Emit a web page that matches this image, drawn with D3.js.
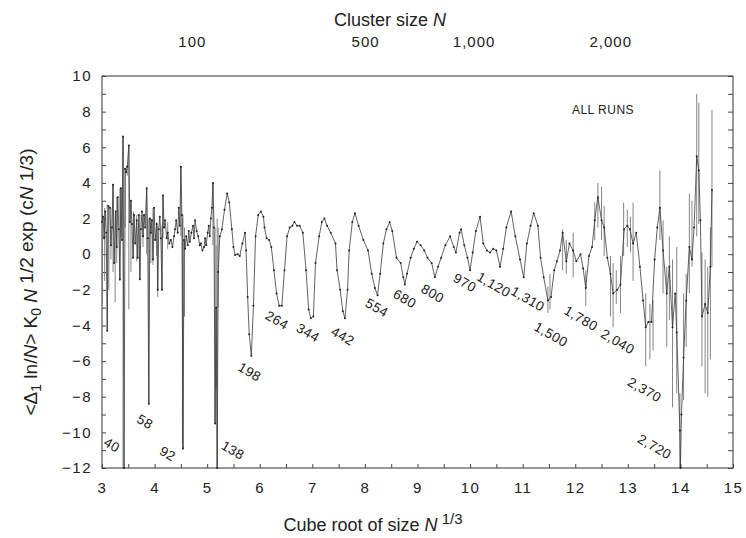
<!DOCTYPE html>
<html>
<head>
<meta charset="utf-8">
<script src="https://cdn.jsdelivr.net/npm/d3@7.9.0/dist/d3.min.js"></script>
<style>
  body { margin: 0; background: #fff; }
  svg text { font-family: "Liberation Sans", Arial, sans-serif; fill: #222; }
  .domain { display: none; }
</style>
</head>
<body>
<svg id="chart" width="746" height="538"></svg>
<script>
// x = cube root of cluster size, y = <Δ1 ln/N> K0 N^1/2 exp(cN^1/3)
const xTicks = [3, 4, 5, 6, 7, 8, 9, 10, 11, 12, 13, 14, 15];
const yTicks = [-12, -10, -8, -6, -4, -2, 0, 2, 4, 6, 8, 10];
const topTicks = [100, 500, 1000, 2000];
const topLabels = ['100', '500', '1,000', '2,000'];

// main trace
const points = [
  [3.00, 1.8], [3.02, 2.1], [3.04, 0.9], [3.06, 2.4], [3.08, 1.2], [3.10, -4.3], [3.12, 2.7],
  [3.15, 2.6], [3.17, 0.5], [3.19, 1.5], [3.21, 3.9], [3.23, -0.5], [3.26, 2.4], [3.28, 0.4],
  [3.30, 3.2], [3.32, 1.4], [3.34, -1.4], [3.36, 3.7], [3.38, 0.8], [3.40, 6.6], [3.42, -12],
  [3.44, 4.8], [3.46, 4.6], [3.48, 4.9], [3.51, 6.1], [3.53, 1.8], [3.55, 3.0], [3.57, 1.7],
  [3.59, -0.2], [3.61, 2.2], [3.63, 0.6], [3.66, 1.9], [3.68, -0.2], [3.70, 2.2], [3.72, -1.4],
  [3.74, 1.4], [3.76, 2.4], [3.78, 1.0], [3.80, 2.2], [3.82, 1.5], [3.85, 3.7], [3.87, 0.9],
  [3.89, -8.4], [3.91, 2.0], [3.93, 1.2], [3.95, 1.9], [3.97, -0.3], [3.99, 2.6], [4.01, 0.8],
  [4.04, 1.7], [4.06, -2.0], [4.08, 1.4], [4.10, 2.1], [4.12, 0.9], [4.14, -2.0], [4.16, 3.3],
  [4.18, 1.5], [4.20, 1.9], [4.23, 0.9], [4.25, 1.2], [4.28, 0.6], [4.31, 0.8], [4.34, 0.4],
  [4.37, 1.0], [4.39, 1.4], [4.41, 1.9], [4.44, 1.2], [4.46, 2.6], [4.48, 1.6], [4.50, 4.9],
  [4.52, 2.2], [4.54, -10.9], [4.56, 0.8], [4.58, 0.3], [4.60, 1.0], [4.63, 0.5], [4.65, 1.3],
  [4.67, 0.7], [4.70, 1.2], [4.73, 1.6], [4.75, 0.9], [4.77, 1.9], [4.80, 1.3], [4.83, 1.0],
  [4.86, 0.5], [4.88, 0.6], [4.91, 0.2], [4.94, 0.4], [4.96, 0.9], [4.98, 0.5], [5.01, 1.2],
  [5.03, 1.6], [5.05, 1.0], [5.07, 2.0], [5.09, 2.6], [5.11, 4.0], [5.13, 1.5], [5.15, -9.5],
  [5.17, -3.0], [5.19, -12], [5.21, -1.0], [5.24, 1.0], [5.28, 1.4],
  [5.33, 2.5], [5.38, 3.4], [5.42, 2.9], [5.47, 1.4], [5.50, 0.4], [5.53, -0.05], [5.58, 0.0],
  [5.62, -0.1], [5.67, 0.6], [5.72, 1.2], [5.74, 0.2], [5.77, -2.4], [5.80, -4.5], [5.84, -5.7],
  [5.88, -2.9], [5.92, 1.0], [5.97, 2.2], [6.02, 2.4], [6.07, 2.1], [6.09, 1.5], [6.13, 0.9],
  [6.18, 0.8], [6.22, 0.4], [6.27, -0.9], [6.32, -2.2], [6.37, -2.9], [6.42, -2.9], [6.47, -0.9],
  [6.52, 1.0], [6.57, 1.5], [6.62, 1.6], [6.66, 1.8], [6.71, 1.6], [6.76, 1.6], [6.82, 1.2],
  [6.88, -0.9], [6.93, -3.1], [6.97, -3.6], [7.02, -3.5], [7.06, -0.5], [7.13, 1.0], [7.18, 1.8],
  [7.23, 2.0], [7.28, 1.6], [7.35, 1.2], [7.44, 0.6], [7.47, -0.9], [7.53, -2.0], [7.58, -3.2],
  [7.62, -3.6], [7.67, -2.0], [7.70, 0.2], [7.76, 1.8], [7.81, 2.3], [7.88, 1.6], [7.97, 0.8],
  [8.06, 0.2], [8.13, -1.1], [8.19, -1.9], [8.24, -2.3], [8.29, -1.1], [8.35, 0.6], [8.41, 1.4],
  [8.47, 1.8], [8.52, 1.3], [8.60, -0.2], [8.68, -0.5], [8.73, -1.3], [8.76, -1.7], [8.80, -1.1],
  [8.87, -0.2], [8.93, 0.3], [8.99, 0.7], [9.06, 0.5], [9.13, 0.2], [9.19, -0.2], [9.27, -0.5],
  [9.33, -1.3], [9.39, -0.7], [9.45, -0.2], [9.53, 0.5], [9.62, 1.0], [9.69, 0.4], [9.73, 0.1],
  [9.80, 1.2], [9.83, 1.4], [9.89, 0.5], [9.95, -0.2], [10.00, -0.9], [10.05, 0.1], [10.11, 1.3],
  [10.19, 2.1], [10.25, 0.6], [10.32, 0.2], [10.38, 0.1], [10.44, 0.3], [10.50, 0.2], [10.57, -0.7],
  [10.63, 0.3], [10.69, 1.5], [10.78, 2.4], [10.86, 1.0], [10.95, -0.3], [11.02, -1.3], [11.08, 0.6],
  [11.15, 1.6], [11.21, 2.3], [11.29, 1.6], [11.34, -0.2], [11.40, -1.3], [11.48, -2.6], [11.54, -2.4],
  [11.60, -0.9], [11.65, -0.4], [11.71, 0.2], [11.76, 1.2], [11.83, -0.4], [11.89, 0.6], [11.96, 0.2],
  [12.02, -0.4], [12.10, 0.0], [12.15, -0.8], [12.20, -1.9], [12.26, -0.1], [12.32, 0.4], [12.37, 1.9],
  [12.43, 3.2], [12.50, 1.9], [12.55, 1.5], [12.61, -0.2], [12.67, -1.1], [12.72, -2.2], [12.80, -2.0],
  [12.86, -1.7], [12.93, 1.4], [12.99, 1.6], [13.04, 1.4], [13.10, 0.6], [13.16, 1.2], [13.23, -0.7],
  [13.29, -2.6], [13.34, -4.1], [13.39, -3.8], [13.45, -3.8], [13.51, -0.3], [13.56, 1.5], [13.61, 2.6],
  [13.67, 0.2], [13.74, -2.2], [13.79, -0.7], [13.85, -4.1], [13.90, -2.2], [13.93, -4.4], [13.99, -9.9],
  [14.00, -12], [14.02, -9.0], [14.06, -5.8], [14.11, -2.6], [14.17, 0.4], [14.22, -0.3], [14.26, 1.5],
  [14.31, 5.5], [14.35, 4.7], [14.38, 1.9], [14.41, -3.5], [14.47, -2.8], [14.52, -3.3], [14.57, -0.7],
  [14.60, 3.6]
];

// vertical error bars [x, low, high]
const errorBars = [
  [3.01, -2.8, 2.9], [3.05, -1.5, 2.6], [3.10, -4.3, 2.8], [3.13, -2.0, 2.7], [3.17, -0.3, 2.6],
  [3.21, -1.0, 3.9], [3.25, -2.7, 2.3], [3.28, -0.5, 3.2], [3.34, -1.5, 3.7], [3.36, 1.0, 3.7],
  [3.40, -12, 6.6], [3.44, 1.5, 4.8], [3.48, 4.4, 5.0], [3.51, -3.1, 6.1], [3.55, -1.0, 3.0],
  [3.60, -0.2, 2.4], [3.66, -0.4, 2.2], [3.72, -1.4, 2.2], [3.78, 0.4, 2.2], [3.85, 0.0, 3.7],
  [3.89, -8.4, 2.0], [3.93, -0.5, 2.0], [3.97, -0.6, 2.6], [4.04, -0.1, 1.8], [4.06, -2.4, 1.6],
  [4.14, -2.0, 1.6], [4.16, 0.9, 3.3], [4.25, 0.3, 1.8], [4.50, 1.0, 4.9], [4.53, -10.6, 2.0],
  [4.54, -10.9, 2.2], [4.57, -3.5, 1.5], [5.11, 0.5, 4.0], [5.15, -9.5, 1.5], [5.17, -7.5, 0.5],
  [5.19, -12, 2.0], [5.21, -3.0, 1.5],
  [11.48, -1.8, -3.3], [11.52, -1.1, -3.1], [11.76, 1.4, -0.9], [11.83, 0.8, -1.1], [11.96, 1.2, -1.3],
  [12.20, -0.9, -2.9], [12.37, 2.9, 0.8], [12.43, 4.0, 1.5], [12.50, 3.8, 0.8], [12.55, 2.7, -0.1],
  [12.67, -0.1, -3.5], [12.72, -0.5, -4.1], [12.78, -0.9, -2.8], [12.86, -0.1, -3.3], [12.92, 2.9, -0.1],
  [12.99, 2.5, 0.4], [13.05, 2.1, 0.1], [13.10, 2.9, -1.5], [13.34, -2.2, -6.3], [13.42, -2.8, -5.9],
  [13.48, -2.6, -5.4], [13.61, 4.7, 0.8], [13.67, 1.9, -2.2], [13.74, -0.7, -5.2], [13.79, 1.0, -3.7],
  [13.85, -0.3, -8.6], [13.93, 0.4, -7.8], [13.99, -7.8, -12], [14.06, -2.2, -8.2], [14.11, -1.1, -5.2],
  [14.17, 3.4, -2.2], [14.22, 3.0, -0.7], [14.31, 9.0, 1.0], [14.35, 8.5, 1.7], [14.41, 0.1, -6.3],
  [14.47, -0.3, -7.8], [14.52, -0.7, -8.0], [14.57, 1.5, -5.9], [14.60, 8.1, -0.7]
];

// shell-closing annotations, placed beside their minima
const dipLabels = ['40', '58', '92', '138', '198', '264', '344', '442', '554', '680', '800', '970',
  '1,120', '1,310', '1,500', '1,780', '2,040', '2,370', '2,720'];
const dipLabelX = [3.19, 3.82, 4.25, 5.49, 5.81, 6.33, 6.92, 7.58, 8.23, 8.76, 9.29, 9.90,
  10.45, 11.10, 11.54, 12.11, 12.81, 13.32, 13.51];
const dipLabelY = [-10.7, -9.4, -11.2, -11.0, -6.6, -3.7, -4.4, -4.6, -3.0, -2.5, -2.2, -1.6,
  -1.7, -2.5, -4.5, -3.6, -4.9, -7.6, -10.8];

const width = 746;
const height = 538;
const margin = { top: 76, right: 13, bottom: 70, left: 102 };

const svg = d3.select('#chart');

const xScale = d3.scaleLinear()
  .domain([3, 15])
  .range([margin.left, width - margin.right]);

const yScale = d3.scaleLinear()
  .domain([-12, 10])
  .range([height - margin.bottom, margin.top]);

const x0 = margin.left, x1 = width - margin.right;
const y0 = margin.top, y1 = height - margin.bottom;

// Frame
svg.append('rect')
  .attr('x', x0).attr('y', y0)
  .attr('width', x1 - x0).attr('height', y1 - y0)
  .attr('fill', 'none')
  .attr('stroke', '#333')
  .attr('stroke-width', 1);

// Left axis
svg.append('g')
  .attr('transform', `translate(${x0}, 0)`)
  .call(d3.axisLeft(yScale).tickValues(yTicks).tickSize(0).tickPadding(10))
  .selectAll('text')
  .style('font-size', '15px')
  .attr('letter-spacing', '1.5px');

// inner ticks, left and right
svg.append('g')
  .attr('transform', `translate(${x0}, 0)`)
  .call(d3.axisRight(yScale).ticks(22).tickSize(4).tickFormat(''))
  .selectAll('line').attr('stroke', '#444');
svg.append('g')
  .attr('transform', `translate(${x1}, 0)`)
  .call(d3.axisLeft(yScale).ticks(22).tickSize(5).tickFormat(''))
  .selectAll('line').attr('stroke', '#444');

// Bottom axis
svg.append('g')
  .attr('transform', `translate(0, ${y1})`)
  .call(d3.axisBottom(xScale).tickValues(xTicks).tickSize(0).tickPadding(14))
  .selectAll('text')
  .style('font-size', '15px')
  .attr('letter-spacing', '1.5px');

svg.append('g')
  .attr('transform', `translate(0, ${y1})`)
  .call(d3.axisTop(xScale).ticks(24).tickSize(4).tickFormat(''))
  .selectAll('line').attr('stroke', '#444');

// Top axis: cluster size N at N^(1/3)
const topAxis = svg.append('g')
  .attr('transform', `translate(0, ${y0})`);
topAxis.selectAll('text')
  .data(topTicks)
  .join('text')
  .attr('x', d => xScale(Math.cbrt(d)) + 4)
  .attr('y', -29)
  .attr('text-anchor', 'middle')
  .attr('letter-spacing', '1px')
  .style('font-size', '15px')
  .text((d, i) => topLabels[i]);

// Error bars
svg.append('g')
  .selectAll('line')
  .data(errorBars)
  .join('line')
  .attr('x1', d => xScale(d[0]))
  .attr('x2', d => xScale(d[0]))
  .attr('y1', d => yScale(d[1]))
  .attr('y2', d => yScale(d[2]))
  .attr('stroke', '#777')
  .attr('stroke-width', 0.9);

// Trace
const line = d3.line()
  .x(d => xScale(d[0]))
  .y(d => yScale(d[1]));

svg.append('path')
  .datum(points)
  .attr('d', line)
  .attr('fill', 'none')
  .attr('stroke', '#3a3a3a')
  .attr('stroke-width', 0.8);

svg.append('g')
  .selectAll('circle')
  .data(points)
  .join('circle')
  .attr('cx', d => xScale(d[0]))
  .attr('cy', d => yScale(d[1]))
  .attr('r', 1.0)
  .attr('fill', '#222');

// Dip labels
svg.append('g')
  .selectAll('text')
  .data(dipLabels)
  .join('text')
  .attr('transform', (d, i) =>
    `translate(${xScale(dipLabelX[i])}, ${yScale(dipLabelY[i])}) rotate(30)`)
  .attr('text-anchor', 'middle')
  .attr('dy', '0.35em')
  .attr('letter-spacing', '0.5px')
  .style('font-size', '13.5px')
  .text(d => d);

svg.append('text')
  .attr('x', 603)
  .attr('y', 114)
  .attr('text-anchor', 'middle')
  .attr('letter-spacing', '0.5px')
  .style('font-size', '12px')
  .text('ALL RUNS');

// Axis titles
const topTitle = svg.append('text')
  .attr('x', 390)
  .attr('y', 26)
  .attr('text-anchor', 'middle')
  .style('font-size', '18px');
topTitle.append('tspan').text('Cluster size ');
topTitle.append('tspan').style('font-style', 'italic').text('N');

const bottomTitle = svg.append('text')
  .attr('x', 373)
  .attr('y', 531)
  .attr('text-anchor', 'middle')
  .style('font-size', '18px');
bottomTitle.append('tspan').text('Cube root of size ');
bottomTitle.append('tspan').style('font-style', 'italic').text('N');
bottomTitle.append('tspan').attr('dy', -7).style('font-size', '15px').text(' 1/3');

const yTitle = svg.append('text')
  .attr('transform', 'translate(37, 282) rotate(-90)')
  .attr('text-anchor', 'middle')
  .style('font-size', '19px');
yTitle.append('tspan').text('<Δ');
yTitle.append('tspan').attr('dy', 4).style('font-size', '14px').text('1');
yTitle.append('tspan').attr('dy', -4).text(' ln/');
yTitle.append('tspan').style('font-style', 'italic').text('N');
yTitle.append('tspan').text('> K');
yTitle.append('tspan').attr('dy', 4).style('font-size', '14px').text('0');
yTitle.append('tspan').attr('dy', -4).text(' ');
yTitle.append('tspan').style('font-style', 'italic').text('N');
yTitle.append('tspan').attr('dy', -4).text(' 1/2 exp (c');
yTitle.append('tspan').style('font-style', 'italic').text('N');
yTitle.append('tspan').text(' 1/3)');
</script>
</body>
</html>
